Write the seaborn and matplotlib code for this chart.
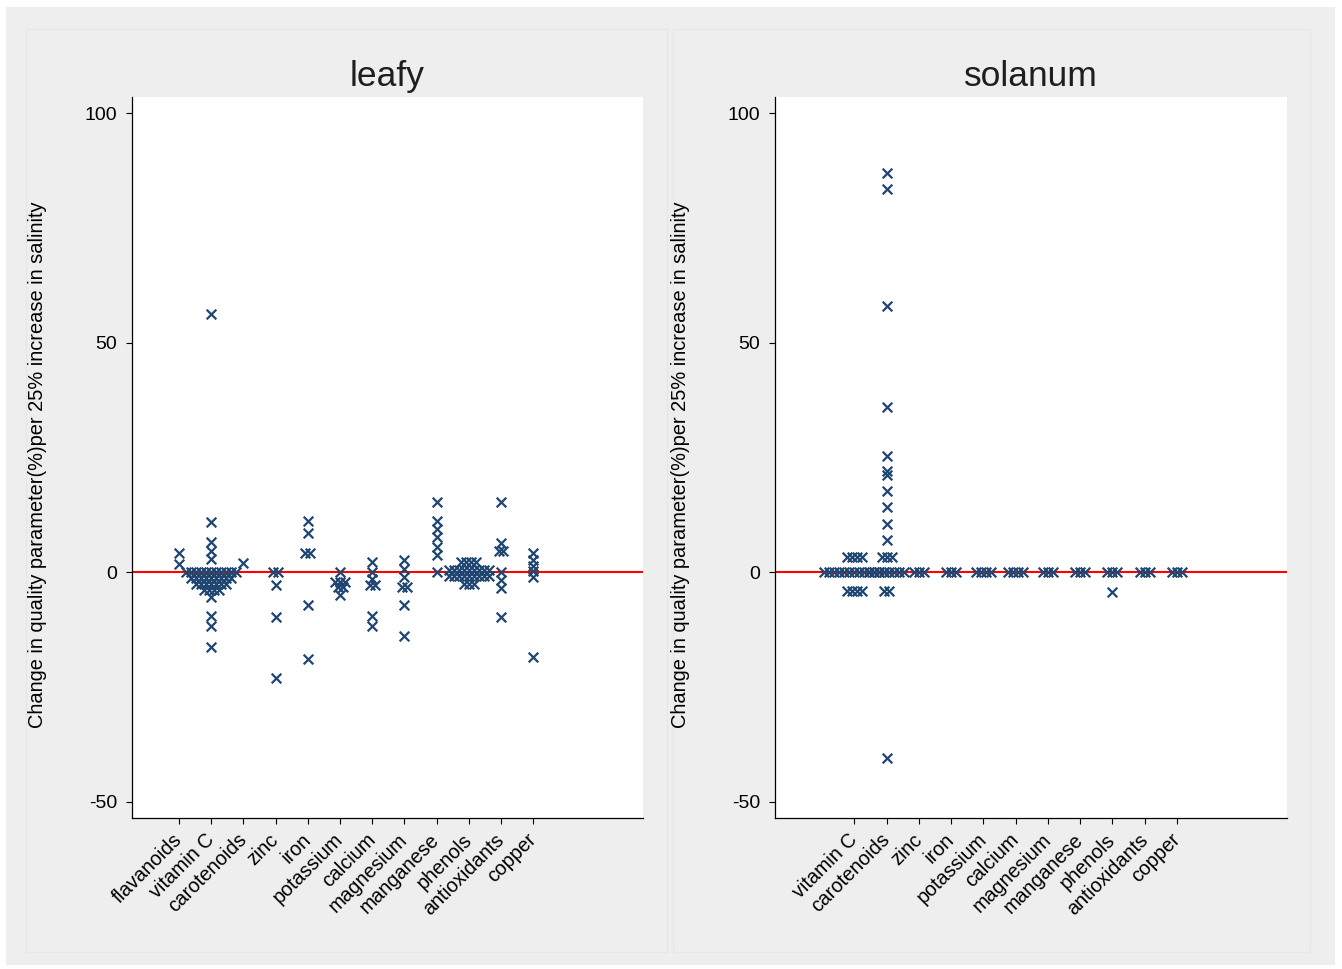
import numpy as np
import pandas as pd
import matplotlib
matplotlib.use("Agg")
import matplotlib.pyplot as plt
import seaborn as sns
from matplotlib.patches import Rectangle

# Nutrient categories (shared x axis order)
nutrients = ["flavanoids", "vitamin C", "carotenoids", "zinc", "iron", "potassium",
             "calcium", "magnesium", "manganese", "phenols", "antioxidants", "copper"]

# Leafy vegetables: change in quality parameter (%) per 25% increase in salinity
leafy_flavanoids = [4.3, 1.8]
leafy_vitamin_c = ([56.2, 10.9, 6.5, 4.6, 2.8] + [0.0] * 11 + [-1.3] * 9 + [-2.6] * 7
                   + [-3.9] * 4 + [-5.4, -9.6, -11.6, -16.2])
leafy_carotenoids = [2.0]
leafy_zinc = [0.0, 0.0, -2.8, -9.7, -23.0]
leafy_iron = [11.2, 8.5, 4.2, 4.2, -7.2, -18.8]
leafy_potassium = [0.0, -2.2, -2.2, -2.2, -3.2, -3.2, -5.0]
leafy_calcium = [2.2, 0.0, -1.4, -2.8, -2.8, -9.6, -11.6]
leafy_magnesium = [2.6, 0.8, -1.0, -3.2, -3.2, -7.2, -13.9]
leafy_manganese = [15.3, 11.2, 9.4, 7.6, 5.6, 3.7, 0.0]
leafy_phenols = [2.3] * 4 + [0.5] * 9 + [-0.9] * 9 + [-2.6] * 3
leafy_antioxidants = [15.3, 6.4, 4.6, 4.6, 0.0, -1.7, -3.5, -9.7]
leafy_copper = [4.2, 2.6, 1.4, 0.3, -1.0, -18.5]

# Solanum vegetables
solanum_flavanoids = []
solanum_vitamin_c = [3.3] * 4 + [0.0] * 13 + [-4.0] * 4
solanum_carotenoids = ([87.0, 83.5, 58.0, 36.0, 25.4, 22.0, 21.2, 17.8, 14.2, 10.6, 7.0]
                       + [3.3] * 3 + [0.0] * 8 + [-4.0] * 2 + [-40.5])
solanum_zinc = [0.0] * 3
solanum_iron = [0.0] * 3
solanum_potassium = [0.0] * 4
solanum_calcium = [0.0] * 4
solanum_magnesium = [0.0] * 3
solanum_manganese = [0.0] * 3
solanum_phenols = [0.0] * 3 + [-4.3]
solanum_antioxidants = [0.0] * 3
solanum_copper = [0.0] * 3

groups = {
    "leafy": [leafy_flavanoids, leafy_vitamin_c, leafy_carotenoids, leafy_zinc, leafy_iron,
              leafy_potassium, leafy_calcium, leafy_magnesium, leafy_manganese, leafy_phenols,
              leafy_antioxidants, leafy_copper],
    "solanum": [solanum_flavanoids, solanum_vitamin_c, solanum_carotenoids, solanum_zinc,
                solanum_iron, solanum_potassium, solanum_calcium, solanum_magnesium,
                solanum_manganese, solanum_phenols, solanum_antioxidants, solanum_copper],
}

STEP = 0.155  # horizontal spacing of tied values (dot-plot stacking)


def stacked_positions(values, idx, step=STEP):
    """Centre tied values side by side around the category position."""
    vals = np.asarray(values, dtype=float)
    xs = np.full(len(vals), float(idx))
    for v in np.unique(vals):
        where = np.flatnonzero(vals == v)
        n = len(where)
        xs[where] = idx + (np.arange(n) - (n - 1) / 2) * step
    return xs


rows = []
for g, cats in groups.items():
    for i, vals in enumerate(cats):
        if not vals:
            continue
        for x, v in zip(stacked_positions(vals, i), vals):
            rows.append({"group": g, "nutrient": nutrients[i], "idx": i, "pos": x, "value": v})
df = pd.DataFrame(rows)

sns.set_theme(style="white")
plt.rcParams["font.family"] = ["Liberation Sans", "DejaVu Sans"]

W, H = 1342, 969
fig = plt.figure(figsize=(W / 100, H / 100), dpi=100)
fig.patch.set_facecolor("white")


def fx(px):
    return px / W


def fy(py):
    return 1 - py / H


# graph region backgrounds
fig.add_artist(Rectangle((fx(6), fy(965)), fx(1335) - fx(6), fy(7) - fy(965),
                         transform=fig.transFigure, facecolor="#eeeeee", edgecolor="none", zorder=-3))
for x0, x1 in [(26, 667), (673, 1310)]:
    fig.add_artist(Rectangle((fx(x0), fy(952)), fx(x1) - fx(x0), fy(29) - fy(952),
                             transform=fig.transFigure, facecolor="#eeeeee",
                             edgecolor="#e6e6e6", lw=0.8, zorder=-2))

navy = "#1f4670"
ylabel = "Change in quality parameter(%)per 25% increase in salinity"
panels = [("leafy", 132, 643), ("solanum", 775, 1287)]

for name, x0, x1 in panels:
    ax = fig.add_axes([fx(x0), fy(818), fx(x1) - fx(x0), fy(97) - fy(818)])
    ax.set_facecolor("white")
    sub = df[df["group"] == name]
    ax.axhline(0, color="#ff0000", lw=1.5, zorder=1)
    sns.scatterplot(data=sub, x="pos", y="value", marker="x", s=48, color=navy,
                    linewidth=1.6, ax=ax, legend=False, zorder=3)

    ax.set_xlim(-1.46, 14.41)
    ax.set_ylim(-53.5, 103.5)
    ax.set_yticks([-50, 0, 50, 100])
    ax.set_yticklabels(["-50", "0", "50", "100"], fontsize=14, color="black")

    used = sorted(sub["idx"].unique())
    ax.set_xticks(used)
    ax.set_xticklabels([nutrients[i] for i in used], fontsize=14.2, color="black")
    plt.setp(ax.get_xticklabels(), rotation=45, ha="right", va="center",
             rotation_mode="anchor")

    ax.tick_params(axis="both", direction="out", length=4.5, width=0.8, color="black",
                   bottom=True, left=True)
    ax.tick_params(axis="x", pad=9)
    ax.tick_params(axis="y", pad=6)

    for side in ["top", "right"]:
        ax.spines[side].set_visible(False)
    for side in ["left", "bottom"]:
        ax.spines[side].set_color("black")
        ax.spines[side].set_linewidth(0.9)

    ax.set_xlabel("")
    ax.set_ylabel(ylabel, fontsize=14.4, color="black")
    ax.yaxis.set_label_coords(-0.166, 0.49)
    ax.set_title(name, fontsize=25.5, color="#1e1e1e", pad=8)

fig.savefig("out.png", dpi=100, facecolor=fig.get_facecolor())
